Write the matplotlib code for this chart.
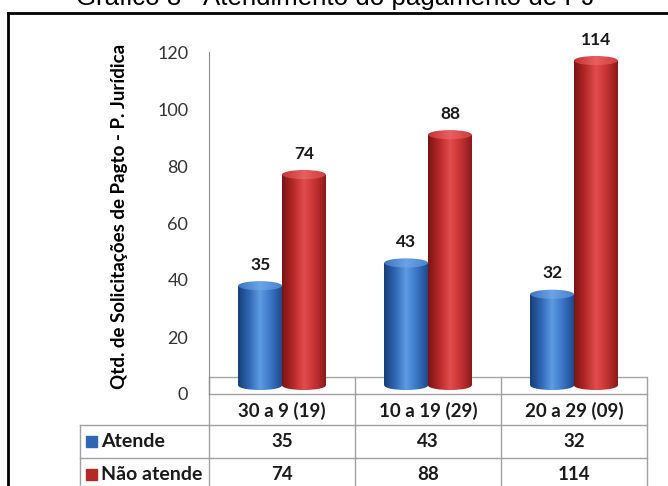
import matplotlib
matplotlib.use('Agg')
import matplotlib.pyplot as plt
import numpy as np
from matplotlib.colors import LinearSegmentedColormap
from matplotlib.patches import Ellipse

# dados do gráfico
categorias = ['30 a 9 (19)', '10 a 19 (29)', '20 a 29 (09)']
atende = [35, 43, 32]
nao_atende = [74, 88, 114]
series = ['Atende', 'Não atende']
titulo = 'Gráfico 8 - Atendimento do pagamento de PJ'
ylabel = 'Qtd. de Solicitações de Pagto - P. Jurídica'
yticks = [0, 20, 40, 60, 80, 100, 120]

plt.rcParams['font.family'] = ['Lato', 'DejaVu Sans']

W, H = 668, 486
fig = plt.figure(figsize=(W / 100, H / 100), dpi=100)

# eixo de fundo em pixels (moldura, titulo, tabela)
bg = fig.add_axes([0, 0, 1, 1])
bg.set_xlim(0, W)
bg.set_ylim(H, 0)
bg.axis('off')

# eixo do grafico
ax = fig.add_axes([209 / W, 1 - 394 / H, (647 - 209) / W, (394 - 52) / H])
ax.set_xlim(-0.5, 2.5)
ax.set_ylim(0, 120)
ax.patch.set_alpha(0)
for s in ['top', 'right', 'bottom']:
    ax.spines[s].set_visible(False)
ax.spines['left'].set_color('#8c8c8c')
ax.set_yticks(yticks)
ax.set_xticks([])
ax.tick_params(axis='y', length=0, pad=15, labelsize=13, labelcolor='#333333')
ax.set_ylabel(ylabel, fontsize=13.5, fontweight='bold')
ax.yaxis.set_label_coords(-0.185, 0.52)

# piso 3D
ax.axhline(6, color='#a6a6a6', lw=1, zorder=1)

cmap_azul = LinearSegmentedColormap.from_list('azul', ['#173f78', '#2f66b4', '#5d9be2', '#3a75c6', '#1c4a8c'])
cmap_verm = LinearSegmentedColormap.from_list('verm', ['#7a1414', '#b52828', '#e24c4c', '#c53232', '#8c1a1a'])
cmap_azul_t = LinearSegmentedColormap.from_list('azul_t', ['#3d74c2', '#6aa3e6', '#4a82cf'])
cmap_verm_t = LinearSegmentedColormap.from_list('verm_t', ['#c43434', '#e86060', '#cf3d3d'])

grad = np.linspace(0, 1, 200).reshape(1, -1)
largura = 0.30
base = 3
eh = 3.2  # altura da elipse em unidades do eixo

x = np.arange(len(categorias))
for vals, dx, cm, cmt in [(atende, -largura / 2, cmap_azul, cmap_azul_t),
                          (nao_atende, largura / 2, cmap_verm, cmap_verm_t)]:
    bars = ax.bar(x + dx, vals, largura, bottom=base, color='none', zorder=3)
    for b, v in zip(bars, vals):
        x0, x1 = b.get_x(), b.get_x() + b.get_width()
        xc = (x0 + x1) / 2
        # elipse da base
        e_bot = Ellipse((xc, base), largura, eh, facecolor='none', edgecolor='none')
        ax.add_patch(e_bot)
        im = ax.imshow(grad, extent=[x0, x1, base - eh, base + eh], aspect='auto', cmap=cm, zorder=3)
        im.set_clip_path(e_bot)
        # corpo do cilindro
        im = ax.imshow(grad, extent=[x0, x1, base, base + v], aspect='auto', cmap=cm, zorder=3)
        im.set_clip_path(b)
        # topo
        e_top = Ellipse((xc, base + v), largura, eh, facecolor='none', edgecolor='none', zorder=4)
        ax.add_patch(e_top)
        im = ax.imshow(grad, extent=[x0, x1, base + v - eh, base + v + eh], aspect='auto', cmap=cmt, zorder=4)
        im.set_clip_path(e_top)
        ax.annotate(str(v), (xc, base + v + eh / 2), xytext=(0, 6), textcoords='offset points',
                    ha='center', va='bottom', fontsize=12.5, fontweight='bold', color='#1a1a1a', zorder=5)

ax.set_xlim(-0.5, 2.5)
ax.set_ylim(0, 120)

# tabela de dados
grid = '#a0a0a0'
cols = [209, 355, 501, 647]
rows = [394, 425, 458, 491]
for cx in cols:
    bg.plot([cx, cx], [rows[0] - 17, rows[-1]], color=grid, lw=1)
bg.plot([cols[0], cols[-1]], [rows[0], rows[0]], color=grid, lw=1)
for ry in rows[1:]:
    bg.plot([80, cols[-1]], [ry, ry], color=grid, lw=1)
bg.plot([80, 80], [rows[1], rows[-1]], color=grid, lw=1)

centros = [(cols[i] + cols[i + 1]) / 2 for i in range(3)]
for c, cat in zip(centros, categorias):
    bg.text(c, 411, cat, ha='center', va='center', fontsize=13.5, fontweight='bold', color='#1a1a1a')
for r, (nome, vals, cor) in enumerate(zip(series, [atende, nao_atende], ['#2f66b4', '#b52828'])):
    yc = (rows[r + 1] + rows[r + 2]) / 2
    bg.add_patch(plt.Rectangle((86, yc - 5.5), 11, 11, color=cor))
    bg.text(101, yc, nome, ha='left', va='center', fontsize=14, fontweight='bold', color='#1a1a1a')
    for c, v in zip(centros, vals):
        bg.text(c, yc, str(v), ha='center', va='center', fontsize=13.5, fontweight='bold', color='#1a1a1a')

# moldura e titulo
bg.plot([8, 8], [13, H + 5], color='black', lw=2)
bg.plot([8, W + 5], [13, 13], color='black', lw=2)
bg.text(335, 4.5, titulo, ha='center', va='baseline', fontsize=18.6, family='Liberation Sans')

fig.savefig('out.png', dpi=100)
